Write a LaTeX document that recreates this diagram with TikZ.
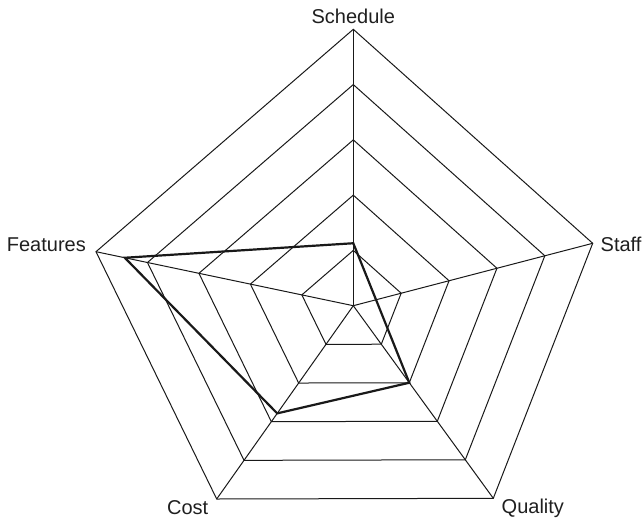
\documentclass[tikz,border=0pt]{standalone}
\usepackage{fontspec}
\setmainfont{Liberation Sans}
\usetikzlibrary{calc}
\begin{document}
\begin{tikzpicture}[x=1pt,y=-1pt,
  gridline/.style={line width=1pt, line join=miter, draw=black!90},
  datapoly/.style={line width=2.2pt, line join=miter, draw=black!90},
  axislabel/.style={inner sep=0pt, font=\fontsize{20}{24}\selectfont, text=black!88}]
\useasboundingbox (0,0) rectangle (643,520);
% centre and outer ends of the five axes
\coordinate (c) at (353.3,305.7);
\coordinate (sch) at (353.3,29.3);
\coordinate (stf) at (592.7,243.3);
\coordinate (qua) at (493.3,498.3);
\coordinate (cst) at (216.7,499);
\coordinate (fea) at (96,251.7);
% axes
\foreach \a in {sch,stf,qua,cst,fea}
  \draw[gridline] (c) -- (\a);
% five concentric rings
\foreach \f in {0.2,0.4,0.6,0.8,1}
  \draw[gridline] ($(c)!\f!(sch)$) -- ($(c)!\f!(stf)$) -- ($(c)!\f!(qua)$)
    -- ($(c)!\f!(cst)$) -- ($(c)!\f!(fea)$) -- cycle;
% profile
\draw[datapoly] ($(c)!0.226!(sch)$) -- ($(c)!0.095!(stf)$) -- ($(c)!0.4!(qua)$)
  -- ($(c)!0.557!(cst)$) -- ($(c)!0.888!(fea)$) -- cycle;
% axis labels
\node[axislabel, anchor=base] (lsch) at (353.3,23) {Schedule};
\node[axislabel, anchor=base west] (lstf) at (600.5,251) {Staff};
\node[axislabel, anchor=base west] (lqua) at (501.5,513.5) {Quality};
\node[axislabel, anchor=base east] (lcst) at (208.5,514) {Cost};
\node[axislabel, anchor=base east] (lfea) at (86,251.7) {Features};
\end{tikzpicture}
\end{document}
